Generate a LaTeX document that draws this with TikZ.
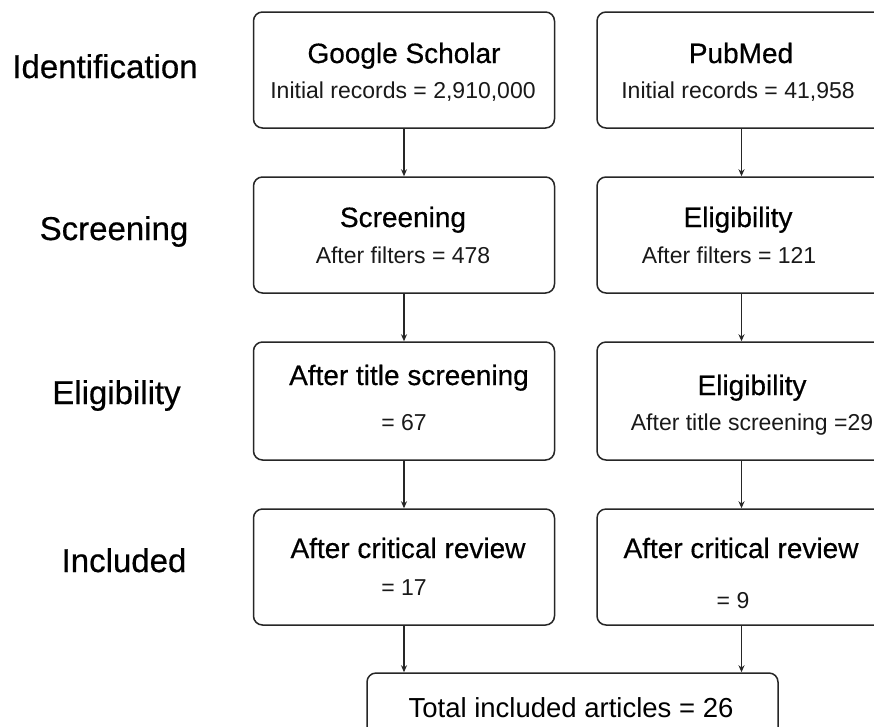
\documentclass[tikz,border=0pt]{standalone}
\usepackage{fontspec}
\setmainfont{Liberation Sans}
\newfontfamily\medfont[FakeBold=0.5]{Liberation Sans}
\usetikzlibrary{arrows.meta,calc}
\tikzset{
  box/.style={draw=black!85, line width=1.5pt, rounded corners=9pt, minimum width=301pt, minimum height=116pt, inner sep=0pt},
  rbox/.style={box, minimum width=289pt},
  ttl/.style={anchor=base, inner sep=0pt, font=\medfont\fontsize{28}{30}\selectfont, text=black},
  sub/.style={anchor=base, inner sep=0pt, font=\fontsize{23}{25}\selectfont, text=black!90},
  lab/.style={anchor=base, inner sep=0pt, font=\medfont\fontsize{33}{35}\selectfont, text=black},
  arr/.style={draw=black!85, line width=1.2pt, -{Stealth[length=7pt,width=6pt]}}
}
\begin{document}
\begin{tikzpicture}[x=1pt,y=-1pt]
\useasboundingbox (0,0) rectangle (874,726);
\clip (0,0) rectangle (874,726);
\fill[white] (0,0) rectangle (874,726);
% row labels
\node[lab] (lid) at (105,78) {Identification};
\node[lab] (lsc) at (114,240) {Screening};
\node[lab] (lel) at (116.5,404) {Eligibility};
\node[lab] (lin) at (124,572) {Included};
% boxes
\node[box] (L1) at (404,70) {};
\node[rbox] (R1) at (741.5,70) {};
\node[box] (L2) at (404,235) {};
\node[rbox] (R2) at (741.5,235) {};
\node[box, minimum height=118pt] (L3) at (404,401) {};
\node[rbox, minimum height=118pt] (R3) at (741.5,401) {};
\node[box] (L4) at (404,567) {};
\node[rbox] (R4) at (741.5,567) {};
\node[box, minimum width=411pt, minimum height=66pt] (T) at (572.5,706) {};
% texts
\node[ttl] (t1a) at (404,63) {Google Scholar};
\node[sub] (t1b) at (403,98) {Initial records = 2,910,000};
\node[ttl] (t1c) at (741,63) {PubMed};
\node[sub] (t1d) at (738,98) {Initial records = 41,958};
\node[ttl] (t2a) at (403,227) {Screening};
\node[sub] (t2b) at (403,263) {After filters = 478};
\node[ttl] (t2c) at (738,227) {Eligibility};
\node[sub] (t2d) at (729,263) {After filters = 121};
\node[ttl] (t3a) at (409,385) {After title screening};
\node[sub] (t3b) at (404,430) {= 67};
\node[ttl] (t3c) at (752,395) {Eligibility};
\node[sub] (t3d) at (752,430) {After title screening =29};
\node[ttl] (t4a) at (408,558) {After critical review};
\node[sub] (t4b) at (404,595) {= 17};
\node[ttl] (t4c) at (741,558) {After critical review};
\node[sub] (t4d) at (733,608) {= 9};
\node[sub, font=\fontsize{27.5}{30}\selectfont, text=black] (tt) at (571,717) {Total included articles = 26};
% arrows
\draw[arr] (L1) -- (L2);
\draw[arr] (R1) -- (R2);
\draw[arr] (L2) -- (L3);
\draw[arr] (R2) -- (R3);
\draw[arr] (L3) -- (L4);
\draw[arr] (R3) -- (R4);
\draw[arr] (L4.south) -- (L4.south |- T.north);
\draw[arr] (R4.south) -- (R4.south |- T.north);
\end{tikzpicture}
\end{document}
